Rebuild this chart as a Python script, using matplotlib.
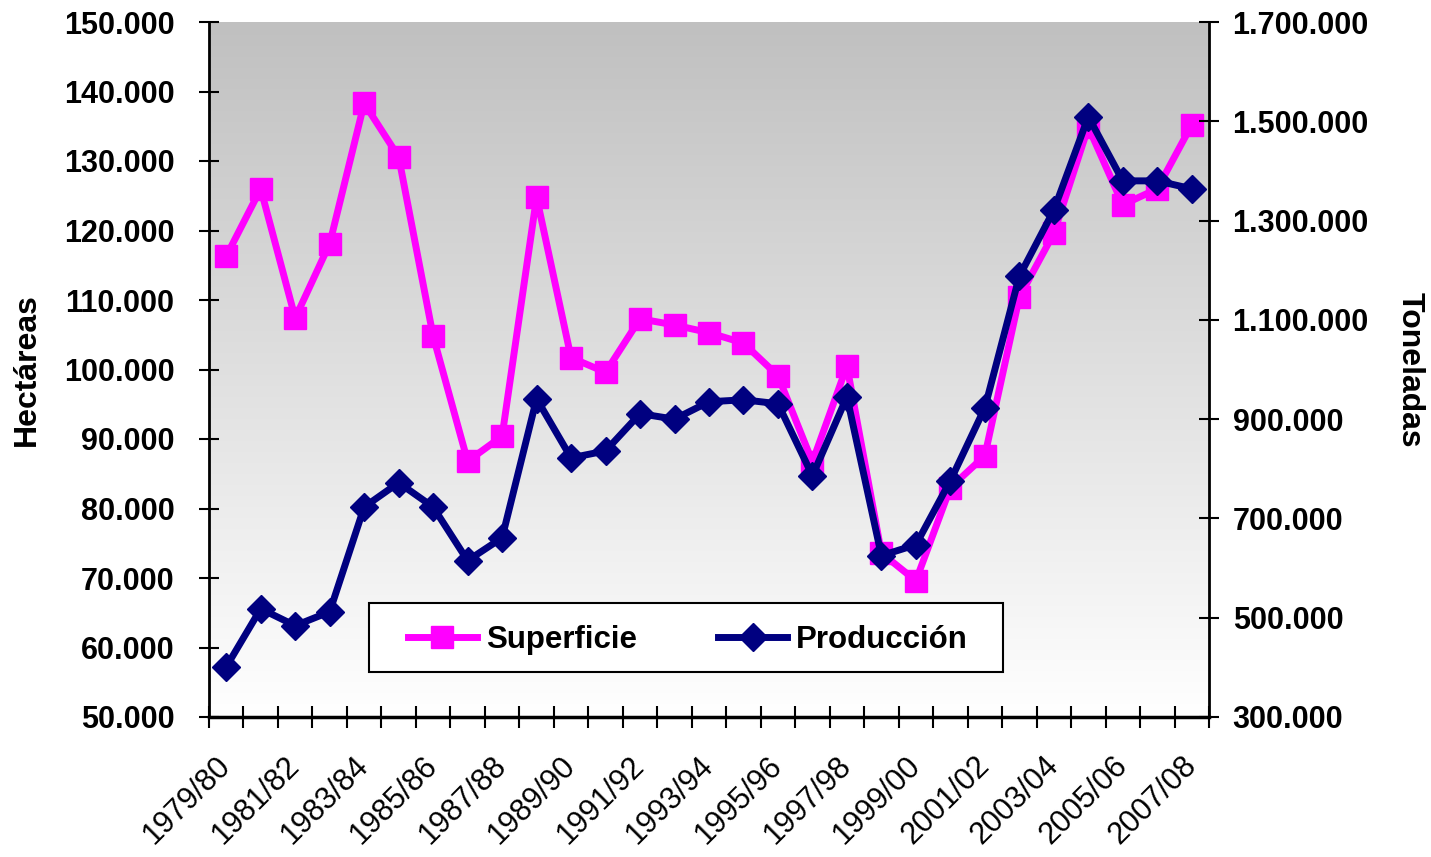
import numpy as np
import matplotlib
matplotlib.use("Agg")
import matplotlib.pyplot as plt
from matplotlib.ticker import FuncFormatter
from matplotlib.patches import Rectangle

plt.rcParams['font.family'] = ['Liberation Sans', 'DejaVu Sans']

# datos
campanas = ['1979/80', '1980/81', '1981/82', '1982/83', '1983/84', '1984/85', '1985/86',
            '1986/87', '1987/88', '1988/89', '1989/90', '1990/91', '1991/92', '1992/93',
            '1993/94', '1994/95', '1995/96', '1996/97', '1997/98', '1998/99', '1999/00',
            '2000/01', '2001/02', '2002/03', '2003/04', '2004/05', '2005/06', '2006/07',
            '2007/08']
superficie = [116300, 126000, 107400, 118100, 138300, 130600, 104800, 86800, 90400,
              124800, 101700, 99600, 107300, 106400, 105300, 103800, 99100, 86700,
              100500, 73600, 69600, 83000, 87600, 110400, 119600, 134900, 123700,
              126000, 135200]
produccion = [401000, 518000, 484000, 512000, 723000, 772000, 723000, 615000, 661000,
              941000, 822000, 836000, 911000, 900000, 935000, 939000, 931000, 786000,
              945000, 625000, 647000, 776000, 923000, 1188000, 1321000, 1509000,
              1380000, 1380000, 1364000]

rosa = '#FF00FF'
azul = '#000080'

def miles(v, pos):
    return f'{int(round(v)):,}'.replace(',', '.')

fig = plt.figure(figsize=(14.31, 8.57), dpi=100)
ax = fig.add_axes([209 / 1431, 1 - 717 / 857, 1000 / 1431, 695 / 857])
ax2 = ax.twinx()

x = np.arange(len(campanas))

# fondo degradado gris -> blanco
grad = np.linspace(0, 1, 256).reshape(-1, 1)
ax.imshow(grad, cmap=matplotlib.colors.LinearSegmentedColormap.from_list('g', ['#C0C0C0', '#FFFFFF']),
          aspect='auto', extent=[0, 1, 0, 1], transform=ax.transAxes, zorder=0)

l1, = ax.plot(x, superficie, color=rosa, lw=5, marker='s', ms=16, label='Superficie', zorder=3)
l2, = ax2.plot(x, produccion, color=azul, lw=5, marker='D', ms=14, label='Producción', zorder=3)

ax.set_xlim(-0.5, len(campanas) - 0.5)
ax.set_ylim(50000, 150000)
ax2.set_ylim(300000, 1700000)
ax.set_yticks(np.arange(50000, 150001, 10000))
ax2.set_yticks(np.arange(300000, 1700001, 200000))
ax.yaxis.set_major_formatter(FuncFormatter(miles))
ax2.yaxis.set_major_formatter(FuncFormatter(miles))

ax.set_xticks(np.arange(-0.5, len(campanas), 1))
ax.set_xticklabels([])
ax.set_xticks(x[::2], minor=True)
ax.set_xticklabels(campanas[::2], minor=True, rotation=45, ha='right', va='center',
                   rotation_mode='anchor', fontsize=22)
ax.tick_params(axis='x', which='major', direction='inout', length=16, width=1.5)
ax.tick_params(axis='x', which='minor', length=0, pad=32)

ax.tick_params(axis='y', direction='inout', length=14, width=1.5, labelsize=22, pad=18)
ax2.tick_params(axis='y', direction='inout', length=14, width=1.5, labelsize=22, pad=10)
for t in ax.get_yticklabels() + ax2.get_yticklabels():
    t.set_fontweight('bold')

for a in (ax, ax2):
    a.spines['top'].set_visible(False)
    a.patch.set_visible(False)
ax.spines['right'].set_visible(False)
ax.spines['left'].set_linewidth(2)
ax.spines['bottom'].set_linewidth(2.5)
ax2.spines['right'].set_linewidth(2)
ax2.spines['left'].set_visible(False)
ax2.spines['bottom'].set_visible(False)

ax.set_ylabel('Hectáreas', fontsize=23, fontweight='bold', labelpad=16)
ax2.set_ylabel('Toneladas', fontsize=23, fontweight='bold', rotation=-90, labelpad=40)

ax2.set_zorder(ax.get_zorder() + 1)

# caja de la leyenda
caja = Rectangle((160 / 1000, 45 / 695), 634 / 1000, 69 / 695, transform=ax2.transAxes,
                 facecolor='white', edgecolor='black', lw=1.5, zorder=4)
ax2.add_patch(caja)
leg = ax2.legend([l1, l2], ['Superficie', 'Producción'], loc='center',
                 bbox_to_anchor=(479 / 1000, 77 / 695), ncol=2, frameon=False,
                 prop={'size': 22.5, 'weight': 'bold'}, handlelength=2.2,
                 handletextpad=0.3, columnspacing=2.6, borderaxespad=0)
leg.set_zorder(5)

fig.savefig('out.png', dpi=100)
